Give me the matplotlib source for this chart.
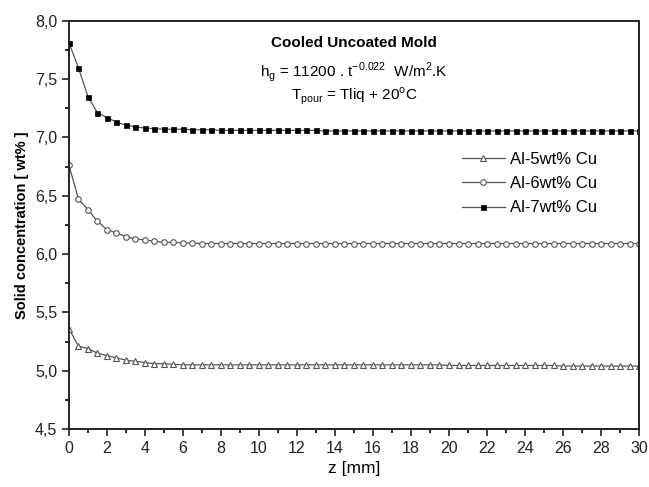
import numpy as np
import matplotlib
matplotlib.use('Agg')
import matplotlib.pyplot as plt
from matplotlib.ticker import MultipleLocator, FuncFormatter

plt.rcParams['font.family'] = ['Liberation Sans', 'DejaVu Sans']

z = [i * 0.5 for i in range(61)]

al5 = [5.36, 5.21, 5.19, 5.15, 5.13, 5.11, 5.09, 5.08, 5.07, 5.06,
       5.06, 5.055, 5.05, 5.05, 5.05, 5.05, 5.05, 5.05, 5.05, 5.05,
       5.05, 5.05, 5.05, 5.05, 5.05, 5.05, 5.05, 5.05, 5.05, 5.05,
       5.05, 5.05, 5.05, 5.05, 5.05, 5.05, 5.05, 5.05, 5.05, 5.05,
       5.045, 5.045, 5.045, 5.045, 5.045, 5.045, 5.045, 5.045, 5.045, 5.045,
       5.045, 5.045, 5.04, 5.04, 5.04, 5.04, 5.04, 5.04, 5.04, 5.04, 5.04]

al6 = [6.76, 6.47, 6.38, 6.28, 6.21, 6.18, 6.15, 6.13, 6.12, 6.11,
       6.10, 6.10, 6.095, 6.095, 6.09, 6.09, 6.09, 6.09, 6.09, 6.09,
       6.09, 6.09, 6.09, 6.09, 6.09, 6.09, 6.09, 6.09, 6.09, 6.09,
       6.09, 6.09, 6.09, 6.09, 6.09, 6.09, 6.09, 6.09, 6.09, 6.09,
       6.09, 6.09, 6.09, 6.09, 6.09, 6.09, 6.09, 6.09, 6.09, 6.09,
       6.09, 6.09, 6.09, 6.09, 6.09, 6.09, 6.09, 6.09, 6.09, 6.09, 6.09]

al7 = [7.81, 7.595, 7.35, 7.21, 7.17, 7.13, 7.105, 7.09, 7.08, 7.075,
       7.07, 7.07, 7.07, 7.065, 7.065, 7.065, 7.06, 7.06, 7.06, 7.06,
       7.06, 7.06, 7.06, 7.06, 7.06, 7.06, 7.06, 7.055, 7.055, 7.055,
       7.055, 7.055, 7.055, 7.055, 7.055, 7.055, 7.055, 7.055, 7.055, 7.055,
       7.055, 7.055, 7.055, 7.055, 7.055, 7.055, 7.055, 7.055, 7.055, 7.055,
       7.055, 7.055, 7.055, 7.055, 7.055, 7.055, 7.055, 7.055, 7.055, 7.055, 7.055]

labels = ['Al-5wt% Cu', 'Al-6wt% Cu', 'Al-7wt% Cu']

fig = plt.figure(figsize=(6.49, 4.87), dpi=100)
ax = fig.add_axes([0.1063, 0.119, 0.8783, 0.8385])

line_c = '#555555'
ax.plot(z, al5, color=line_c, lw=0.9, marker='^', ms=4.0, mfc='white', mec=line_c, mew=0.8, label=labels[0])
ax.plot(z, al6, color=line_c, lw=0.9, marker='o', ms=4.0, mfc='white', mec=line_c, mew=0.8, label=labels[1])
ax.plot(z, al7, color=line_c, lw=0.9, marker='s', ms=3.6, mfc='black', mec='black', mew=0.5, label=labels[2])

ax.set_xlim(0, 30)
ax.set_ylim(4.5, 8.0)
ax.xaxis.set_major_locator(MultipleLocator(2))
ax.xaxis.set_minor_locator(MultipleLocator(1))
ax.yaxis.set_major_locator(MultipleLocator(0.5))
ax.yaxis.set_minor_locator(MultipleLocator(0.25))
ax.yaxis.set_major_formatter(FuncFormatter(lambda v, p: f'{v:.1f}'.replace('.', ',')))
ax.tick_params(which='major', direction='out', length=5, width=1.2, labelsize=11.5, colors='#222222')
ax.tick_params(which='minor', direction='out', length=3, width=1.2)
for s in ax.spines.values():
    s.set_linewidth(1.4)
    s.set_color('#222222')

ax.set_xlabel('z [mm]', fontsize=12.5)
ax.set_ylabel('Solid concentration [ wt% ]', fontsize=10.5, fontweight='bold')

ax.text(0.50, 0.945, 'Cooled Uncoated Mold', transform=ax.transAxes, ha='center', va='center',
        fontsize=11, fontweight='bold')
ax.text(0.50, 0.875, r'h$_\mathregular{g}$ = 11200 . t$^\mathregular{-0.022}$  W/m$^\mathregular{2}$.K',
        transform=ax.transAxes, ha='center', va='center', fontsize=11)
ax.text(0.50, 0.815, r'T$_\mathregular{pour}$ = Tliq + 20$^\mathregular{o}$C',
        transform=ax.transAxes, ha='center', va='center', fontsize=11)

ax.legend(loc='upper right', bbox_to_anchor=(0.953, 0.715), frameon=False, fontsize=12,
          handlelength=2.6, handletextpad=0.3, labelspacing=0.55)

fig.savefig('out.png', dpi=100)
